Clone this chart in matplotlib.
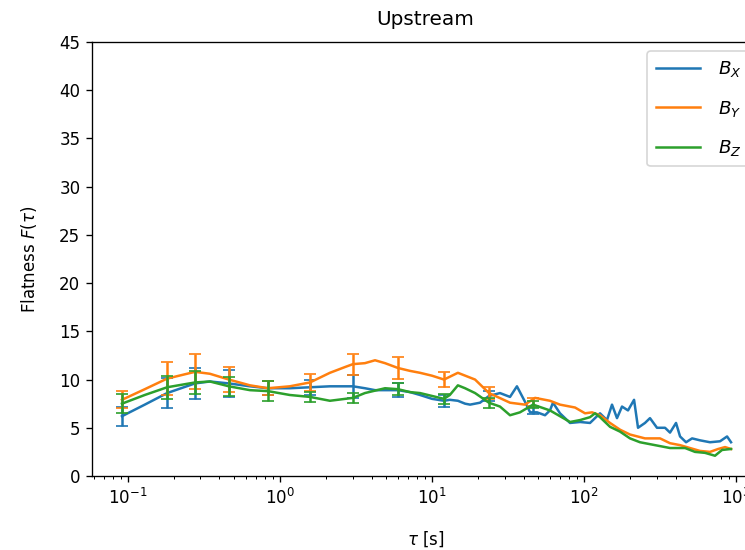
import matplotlib
matplotlib.use("Agg")
import matplotlib.pyplot as plt

# curves
tau_x = [0.0913, 0.129, 0.181, 0.276, 0.346, 0.461, 0.635, 0.834, 1.16, 1.575,
         2.13, 3.02, 3.62, 4.22, 4.91, 5.97, 7.16, 8.34, 10.0, 12.0,
         13.1, 14.8, 16.5, 17.8, 20.7, 23.7, 28.0, 32.6, 36.2, 40.9,
         44.2, 49.1, 55.4, 59.7, 62.5, 69.5, 80.9, 94.2, 109.5, 127.4,
         141.6, 152.8, 164.8, 177.8, 194.7, 213.4, 226.6, 251.8, 271.6, 302.0,
         341.1, 367.9, 403.0, 428.3, 469.0, 514.0, 579.0, 674.0, 785.0, 873.0, 927.0]
f_x = [6.2, 7.4, 8.6, 9.6, 9.8, 9.6, 9.3, 9.1, 9.1, 9.2,
       9.3, 9.3, 9.1, 8.9, 8.9, 8.9, 8.7, 8.4, 8.0, 7.8,
       7.9, 7.8, 7.5, 7.4, 7.6, 8.3, 8.6, 8.2, 9.3, 7.7,
       6.6, 6.6, 6.3, 6.8, 7.6, 6.5, 5.5, 5.6, 5.5, 6.5,
       5.8, 7.4, 6.0, 7.2, 6.8, 7.9, 5.0, 5.5, 6.0, 5.0,
       5.0, 4.5, 5.5, 4.1, 3.5, 3.9, 3.7, 3.5, 3.6, 4.1, 3.5]

tau_y = [0.0913, 0.129, 0.181, 0.276, 0.346, 0.461, 0.635, 0.834, 1.16, 1.575,
         2.13, 2.68, 3.02, 3.62, 4.22, 4.91, 5.97, 7.16, 8.34, 10.0,
         12.0, 14.8, 19.2, 23.7, 32.6, 40.9, 47.6, 59.7, 69.5, 87.3,
         101.6, 112.9, 127.4, 148.3, 172.6, 200.7, 251.8, 316.2, 367.9, 428.3,
         498.0, 579.0, 674.0, 762.0, 847.0, 927.0]
f_y = [7.9, 9.0, 10.1, 10.8, 10.6, 10.0, 9.4, 9.1, 9.3, 9.7,
       10.7, 11.3, 11.6, 11.7, 12.0, 11.7, 11.2, 10.9, 10.7, 10.4,
       10.0, 10.7, 10.0, 8.6, 7.6, 7.4, 8.1, 7.8, 7.4, 7.1,
       6.5, 6.6, 6.3, 5.5, 4.8, 4.3, 3.9, 3.9, 3.4, 3.2,
       2.9, 2.6, 2.5, 2.8, 3.0, 2.8]

tau_z = [0.0913, 0.129, 0.181, 0.276, 0.346, 0.461, 0.635, 0.834, 1.16, 1.575,
         2.13, 3.02, 3.62, 4.91, 5.97, 7.16, 8.34, 12.0, 13.1, 14.8,
         16.5, 19.2, 23.7, 28.0, 32.6, 37.9, 46.2, 59.7, 69.5, 80.9,
         94.2, 109.5, 118.1, 127.4, 148.3, 172.6, 200.7, 233.4, 292.9, 367.9,
         462.0, 537.0, 625.0, 727.0, 809.0, 927.0]
f_z = [7.5, 8.4, 9.2, 9.7, 9.8, 9.3, 8.9, 8.8, 8.4, 8.2,
       7.8, 8.1, 8.6, 9.1, 9.0, 8.7, 8.6, 8.0, 8.4, 9.4,
       9.1, 8.6, 7.6, 7.2, 6.3, 6.6, 7.4, 6.8, 6.2, 5.6,
       5.8, 6.1, 6.5, 6.1, 5.1, 4.6, 3.9, 3.5, 3.2, 2.9,
       2.9, 2.5, 2.4, 2.1, 2.7, 2.8]

# error bar points
tau_err = [0.0913, 0.181, 0.276, 0.461, 0.834, 1.575, 3.02, 5.97, 12.0, 23.7, 46.2]
fx_err = [6.2, 8.6, 9.6, 9.6, 9.1, 9.2, 9.3, 8.9, 7.8, 8.3, 6.8]
ex_err = [1.0, 1.6, 1.6, 1.4, 0.7, 0.8, 1.2, 0.7, 0.6, 0.5, 0.4]
fy_err = [7.9, 10.1, 10.8, 10.0, 9.1, 9.7, 11.6, 11.2, 10.0, 8.6, 7.7]
ey_err = [0.9, 1.7, 1.8, 1.3, 0.75, 0.85, 1.1, 1.1, 0.75, 0.6, 0.4]
fz_err = [7.5, 9.2, 9.7, 9.3, 8.8, 8.2, 8.1, 9.0, 8.0, 7.6, 7.4]
ez_err = [1.0, 1.2, 1.2, 1.0, 1.0, 0.5, 0.5, 0.6, 0.5, 0.5, 0.4]

series = [
    (r"$B_X$", tau_x, f_x, fx_err, ex_err, "C0"),
    (r"$B_Y$", tau_y, f_y, fy_err, ey_err, "C1"),
    (r"$B_Z$", tau_z, f_z, fz_err, ez_err, "C2"),
]

fig = plt.figure(figsize=(745 / 120, 550 / 120), dpi=120)
# axes run past the right edge of the picture, as in the reference
ax = fig.add_axes([92 / 745, 74 / 550, 667 / 745, 434 / 550])

for label, tau, f, fe, ee, color in series:
    ax.plot(tau, f, color=color, label=label, lw=1.5)
    ax.errorbar(tau_err, fe, yerr=ee, fmt="none", ecolor=color, capsize=3.5, lw=1.5)

ax.set_xscale("log")
ax.set_xlim(0.058, 1416)
ax.set_ylim(0, 45)
ax.set_title("Upstream", pad=10)
ax.set_xlabel(r"$\tau$ [s]", labelpad=13)
ax.set_ylabel(r"Flatness $F(\tau)$", labelpad=12)
ax.legend(loc="upper right", fontsize=11, handlelength=2.4,
          labelspacing=1.05, borderpad=0.45, handletextpad=1.0)

fig.savefig("out.png", dpi=120)
